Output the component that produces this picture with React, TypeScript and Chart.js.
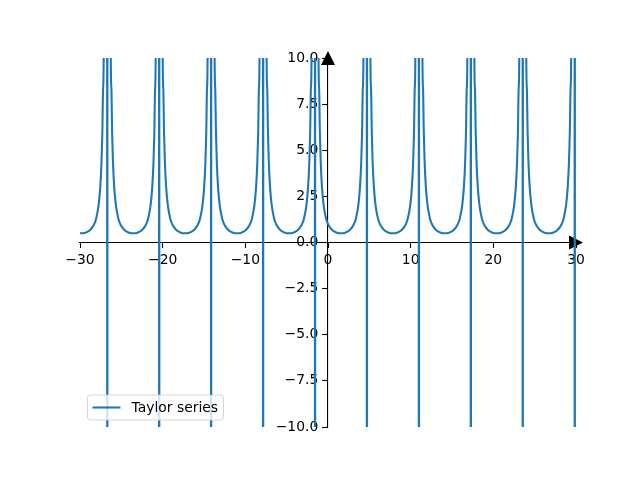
import React, { useEffect, useRef } from "react";
import { Chart, registerables } from "chart.js";

Chart.register(...registerables);

const seriesLabel = "Taylor series";

const xValues: number[] = [
  -30.0, -29.85, -29.35, -28.85, -28.35, -28.05, -27.75, -27.55, -27.4, -27.3, -27.2, -27.1, -26.73, -26.7, -26.67,
  -26.31, -26.21, -26.11, -26.01, -25.86, -25.66, -25.36, -25.06, -24.56, -24.06, -23.56, -23.06, -22.56, -22.06, -21.76, -21.46, -21.26, -21.11, -21.01, -20.91, -20.81, -20.45, -20.42, -20.39,
  -20.03, -19.93, -19.83, -19.73, -19.58, -19.38, -19.08, -18.78, -18.28, -17.78, -17.28, -16.78, -16.28, -15.78, -15.48, -15.18, -14.98, -14.83, -14.73, -14.63, -14.53, -14.17, -14.14, -14.11,
  -13.75, -13.65, -13.55, -13.45, -13.3, -13.1, -12.8, -12.5, -12.0, -11.5, -11.0, -10.5, -10.0, -9.5, -9.2, -8.9, -8.7, -8.55, -8.45, -8.35, -8.25, -7.88, -7.85, -7.82,
  -7.46, -7.36, -7.26, -7.16, -7.01, -6.81, -6.51, -6.21, -5.71, -5.21, -4.71, -4.21, -3.71, -3.21, -2.91, -2.61, -2.41, -2.26, -2.16, -2.06, -1.96, -1.6, -1.57, -1.54,
  -1.18, -1.08, -0.98, -0.88, -0.73, -0.53, -0.23, 0.07, 0.57, 1.07, 1.57, 2.07, 2.57, 3.07, 3.37, 3.67, 3.87, 4.02, 4.12, 4.22, 4.32, 4.68, 4.71, 4.74,
  5.1, 5.2, 5.3, 5.4, 5.55, 5.75, 6.05, 6.35, 6.85, 7.35, 7.85, 8.35, 8.85, 9.35, 9.65, 9.95, 10.15, 10.3, 10.4, 10.5, 10.6, 10.97, 11.0, 11.03,
  11.39, 11.49, 11.59, 11.69, 11.84, 12.04, 12.34, 12.64, 13.14, 13.64, 14.14, 14.64, 15.14, 15.64, 15.94, 16.24, 16.44, 16.59, 16.69, 16.79, 16.89, 17.25, 17.28, 17.31,
  17.67, 17.77, 17.87, 17.97, 18.12, 18.32, 18.62, 18.92, 19.42, 19.92, 20.42, 20.92, 21.42, 21.92, 22.22, 22.52, 22.72, 22.87, 22.97, 23.07, 23.17, 23.53, 23.56, 23.59,
  23.95, 24.05, 24.15, 24.25, 24.4, 24.6, 24.9, 25.2, 25.7, 26.2, 26.7, 27.2, 27.7, 28.2, 28.5, 28.8, 29.0, 29.15, 29.25, 29.35, 29.45, 29.82, 29.85, 29.88,
  30.0,
];

const yValues: number[] = [
  0.51, 0.5, 0.53, 0.65, 0.93, 1.29, 2.02, 3.0, 4.35, 5.89, 8.42, 13.2, 1000, -1000, 1000,
  13.2, 8.42, 5.89, 4.35, 3.0, 2.02, 1.29, 0.93, 0.65, 0.53, 0.5, 0.53, 0.65, 0.93, 1.29, 2.02, 3.0, 4.35, 5.89, 8.42, 13.2, 1000, -1000, 1000,
  13.2, 8.42, 5.89, 4.35, 3.0, 2.02, 1.29, 0.93, 0.65, 0.53, 0.5, 0.53, 0.65, 0.93, 1.29, 2.02, 3.0, 4.35, 5.89, 8.42, 13.2, 1000, -1000, 1000,
  13.2, 8.42, 5.89, 4.35, 3.0, 2.02, 1.29, 0.93, 0.65, 0.53, 0.5, 0.53, 0.65, 0.93, 1.29, 2.02, 3.0, 4.35, 5.89, 8.42, 13.2, 1000, -1000, 1000,
  13.2, 8.42, 5.89, 4.35, 3.0, 2.02, 1.29, 0.93, 0.65, 0.53, 0.5, 0.53, 0.65, 0.93, 1.29, 2.02, 3.0, 4.35, 5.89, 8.42, 13.2, 1000, -1000, 1000,
  13.2, 8.42, 5.89, 4.35, 3.0, 2.02, 1.29, 0.93, 0.65, 0.53, 0.5, 0.53, 0.65, 0.93, 1.29, 2.02, 3.0, 4.35, 5.89, 8.42, 13.2, 1000, -1000, 1000,
  13.2, 8.42, 5.89, 4.35, 3.0, 2.02, 1.29, 0.93, 0.65, 0.53, 0.5, 0.53, 0.65, 0.93, 1.29, 2.02, 3.0, 4.35, 5.89, 8.42, 13.2, 1000, -1000, 1000,
  13.2, 8.42, 5.89, 4.35, 3.0, 2.02, 1.29, 0.93, 0.65, 0.53, 0.5, 0.53, 0.65, 0.93, 1.29, 2.02, 3.0, 4.35, 5.89, 8.42, 13.2, 1000, -1000, 1000,
  13.2, 8.42, 5.89, 4.35, 3.0, 2.02, 1.29, 0.93, 0.65, 0.53, 0.5, 0.53, 0.65, 0.93, 1.29, 2.02, 3.0, 4.35, 5.89, 8.42, 13.2, 1000, -1000, 1000,
  13.2, 8.42, 5.89, 4.35, 3.0, 2.02, 1.29, 0.93, 0.65, 0.53, 0.5, 0.53, 0.65, 0.93, 1.29, 2.02, 3.0, 4.35, 5.89, 8.42, 13.2, 1000, -1000, 1000,
  88,
];

const xTicks: number[] = [-30, -20, -10, 0, 10, 20, 30];
const yTicks: number[] = [-10, -7.5, -5, -2.5, 0, 2.5, 5, 7.5, 10];

const FONT = "DejaVu Sans";
const FS = 13.9;
const BLUE = "#1f77b4";
const TICK_LEN = 4.86;
const TICK_PAD = 4.86;

const fmt = (s: string) => s.replace("-", "\u2212");

const arrowsPlugin = {
  id: "arrows",
  beforeDatasetsDraw(chart: any) {
    const { ctx, chartArea, scales } = chart;
    const x0 = scales.x.getPixelForValue(0);
    const y0 = scales.y.getPixelForValue(0);
    const h = 7;
    ctx.save();
    ctx.fillStyle = "#000";
    ctx.beginPath();
    ctx.moveTo(x0, chartArea.top - h);
    ctx.lineTo(x0 - h, chartArea.top + h);
    ctx.lineTo(x0 + h, chartArea.top + h);
    ctx.closePath();
    ctx.fill();
    ctx.beginPath();
    ctx.moveTo(chartArea.right + h, y0);
    ctx.lineTo(chartArea.right - h, y0 - h);
    ctx.lineTo(chartArea.right - h, y0 + h);
    ctx.closePath();
    ctx.fill();
    ctx.restore();
  },
};

const yLabelsPlugin = {
  id: "yLabels",
  beforeDatasetsDraw(chart: any) {
    const { ctx, scales } = chart;
    const x0 = scales.x.getPixelForValue(0);
    ctx.save();
    ctx.fillStyle = "#000";
    ctx.font = `${FS}px "${FONT}"`;
    ctx.textAlign = "right";
    ctx.textBaseline = "middle";
    yTicks.forEach((v) => {
      const y = scales.y.getPixelForValue(v);
      ctx.fillText(fmt(v.toFixed(1)), x0 - TICK_LEN - TICK_PAD, y);
    });
    ctx.restore();
  },
};

const legendPlugin = {
  id: "innerLegend",
  afterDraw(chart: any) {
    const { ctx, chartArea } = chart;
    const left = chartArea.left + 7.5;
    const bottom = chartArea.bottom - 7;
    const w = 136;
    const h = 25;
    const top = bottom - h;
    ctx.save();
    ctx.beginPath();
    if (ctx.roundRect) ctx.roundRect(left, top, w, h, 3);
    else ctx.rect(left, top, w, h);
    ctx.fillStyle = "rgba(255,255,255,0.8)";
    ctx.fill();
    ctx.strokeStyle = "rgba(204,204,204,0.8)";
    ctx.lineWidth = 1;
    ctx.stroke();
    const cy = top + h / 2;
    ctx.beginPath();
    ctx.moveTo(left + 5, cy);
    ctx.lineTo(left + 33, cy);
    ctx.strokeStyle = BLUE;
    ctx.lineWidth = 2.08;
    ctx.stroke();
    ctx.fillStyle = "#000";
    ctx.font = `${FS}px "${FONT}"`;
    ctx.textAlign = "left";
    ctx.textBaseline = "middle";
    ctx.fillText(seriesLabel, left + 44, cy + 1);
    ctx.restore();
  },
};

export default function App() {
  const ref = useRef<HTMLCanvasElement>(null);
  useEffect(() => {
    document.body.style.margin = "0";
    const points = xValues.map((x, i) => ({ x, y: yValues[i] }));
    const chart = new Chart(ref.current!, {
      type: "line",
      data: {
        datasets: [
          {
            label: seriesLabel,
            data: points,
            borderColor: BLUE,
            borderWidth: 2.08,
            pointRadius: 0,
            cubicInterpolationMode: "monotone",
            fill: false,
          },
        ],
      },
      options: {
        animation: false,
        responsive: false,
        devicePixelRatio: 1,
        layout: { padding: { left: 80, right: 64, top: 58, bottom: 53 } },
        plugins: { legend: { display: false }, tooltip: { enabled: false } },
        scales: {
          x: {
            type: "linear",
            position: { y: 0 } as any,
            min: -30,
            max: 30,
            afterFit: (s: any) => {
              s.height = 0;
            },
            afterBuildTicks: (s: any) => {
              s.ticks = xTicks.map((v) => ({ value: v }));
            },
            grid: { drawOnChartArea: false, drawTicks: true, tickLength: TICK_LEN, tickWidth: 1.1, tickColor: "#000" },
            border: { display: true, color: "#000", width: 1.1 },
            ticks: {
              color: "#000",
              padding: TICK_PAD,
              maxRotation: 0,
              autoSkip: false,
              font: { family: FONT, size: FS },
              callback: (v: any) => fmt(String(v)),
            },
          },
          y: {
            type: "linear",
            position: { x: 0 } as any,
            min: -10,
            max: 10,
            afterFit: (s: any) => {
              s.width = 0;
            },
            afterBuildTicks: (s: any) => {
              s.ticks = yTicks.map((v) => ({ value: v }));
            },
            grid: { drawOnChartArea: false, drawTicks: true, tickLength: TICK_LEN, tickWidth: 1.1, tickColor: "#000" },
            border: { display: true, color: "#000", width: 1.1 },
            ticks: { display: false },
          },
        },
      },
      plugins: [arrowsPlugin, yLabelsPlugin, legendPlugin],
    });
    return () => chart.destroy();
  }, []);
  return (
    <div style={{ position: "absolute", left: 0, top: 0, width: 640, height: 480 }}>
      <canvas ref={ref} width={640} height={480} style={{ width: 640, height: 480 }} />
    </div>
  );
}
